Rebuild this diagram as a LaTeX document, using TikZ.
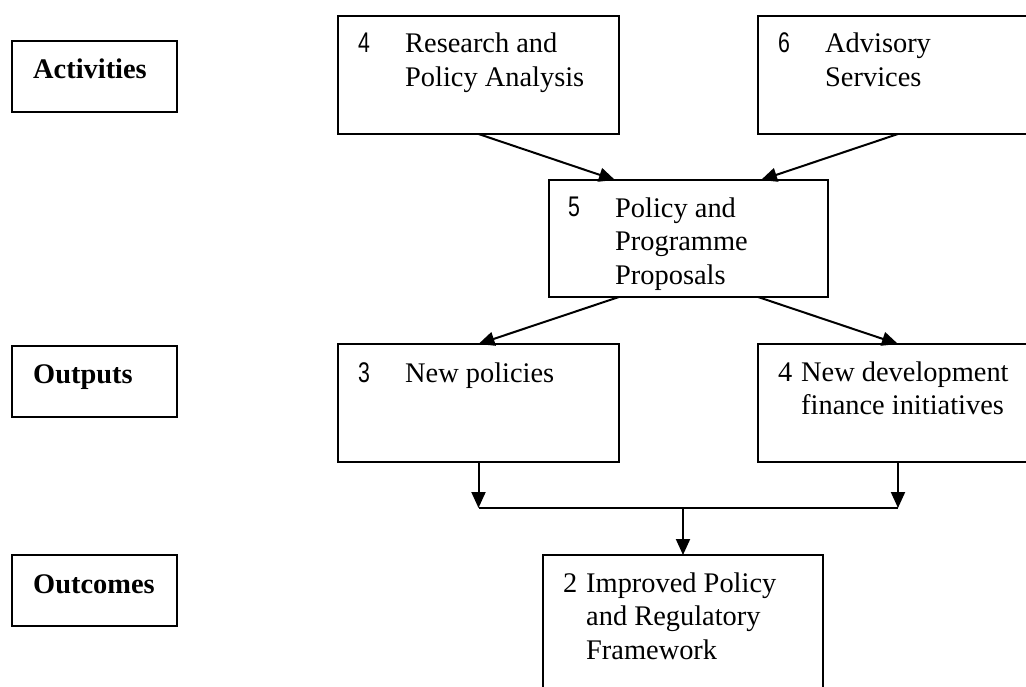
\documentclass[tikz,border=0pt]{standalone}
\usepackage{fontspec}
\setmainfont{Liberation Serif}
\newfontfamily\numfont{Liberation Sans}
\usetikzlibrary{arrows.meta,calc}

\begin{document}
\begin{tikzpicture}[x=1pt,y=-1pt,
  box/.style={draw, line width=1.7pt, rectangle, inner sep=0pt, outer sep=0pt, anchor=north west},
  txt/.style={anchor=base west, inner sep=0pt, align=left, font=\fontsize{28.4}{33.5}\selectfont},
  lbl/.style={anchor=base west, inner sep=0pt, font=\fontsize{28.4}{33.5}\selectfont\bfseries},
  num/.style={anchor=base west, inner sep=0pt, font=\fontsize{28.4}{33.5}\selectfont\numfont},
  link/.style={line width=2pt, -{Triangle[length=16pt,width=14pt]}},
  joinline/.style={line width=1.7pt}
]
\useasboundingbox (0,0) rectangle (1026,687);
\clip (0,0) rectangle (1026,687);

% level labels
\node[box, minimum width=165pt, minimum height=71pt] (act) at (12,41) {};
\node[box, minimum width=165pt, minimum height=71pt] (out) at (12,346) {};
\node[box, minimum width=165pt, minimum height=71pt] (oc) at (12,555) {};
\node[lbl] (tact) at (33,79) {Activities};
\node[lbl] (tout) at (33,383) {Outputs};
\node[lbl] (toc) at (33,593) {Outcomes};

% activities (multi-line texts are placed by the baseline of their last line)
\node[box, minimum width=281pt, minimum height=118pt] (research) at (338,16) {};
\node[box, minimum width=280pt, minimum height=118pt] (advisory) at (758,16) {};
\node[num] (nres) at (358,53) {\scalebox{0.75}[1]{4}};
\node[txt] (tres) at (405,86.5) {Research and\\Policy Analysis};
\node[num] (nadv) at (778,53) {\scalebox{0.75}[1]{6}};
\node[txt] (tadv) at (825,86.5) {Advisory\\Services};

% proposals
\node[box, minimum width=279pt, minimum height=117pt] (policy) at (549,180) {};
\node[num] (npol) at (568,217) {\scalebox{0.75}[1]{5}};
\node[txt] (tpol) at (615,284) {Policy and\\Programme\\Proposals};

% outputs
\node[box, minimum width=281pt, minimum height=118pt] (newpol) at (338,344) {};
\node[box, minimum width=280pt, minimum height=118pt] (newdev) at (758,344) {};
\node[num] (nnp) at (358,382) {\scalebox{0.75}[1]{3}};
\node[txt] (tnp) at (405,382) {New policies};
\node[txt] (nnd) at (778,381) {4};
\node[txt] (tnd) at (801,414.5) {New development\\finance initiatives};

% outcome
\node[box, minimum width=280pt, minimum height=150pt] (improved) at (543,555) {};
\node[txt] (nimp) at (563,592) {2};
\node[txt] (timp) at (586,659) {Improved Policy\\and Regulatory\\Framework};

% connectors
\draw[link] (research.south) -- ([xshift=-73.5pt]policy.north);
\draw[link] (advisory.south) -- ([xshift=72.5pt]policy.north);
\draw[link] ([xshift=-69.5pt]policy.south) -- (newpol.north);
\draw[link] ([xshift=69.5pt]policy.south) -- (newdev.north);

\coordinate (jm) at (683,508);
\coordinate (jl) at (newpol.south |- jm);
\coordinate (jr) at (newdev.south |- jm);
\draw[link] (newpol.south) -- (jl);
\draw[link] (newdev.south) -- (jr);
\draw[joinline] (jl) -- (jr);
\draw[link] (jm) -- (improved.north);
\end{tikzpicture}
\end{document}
